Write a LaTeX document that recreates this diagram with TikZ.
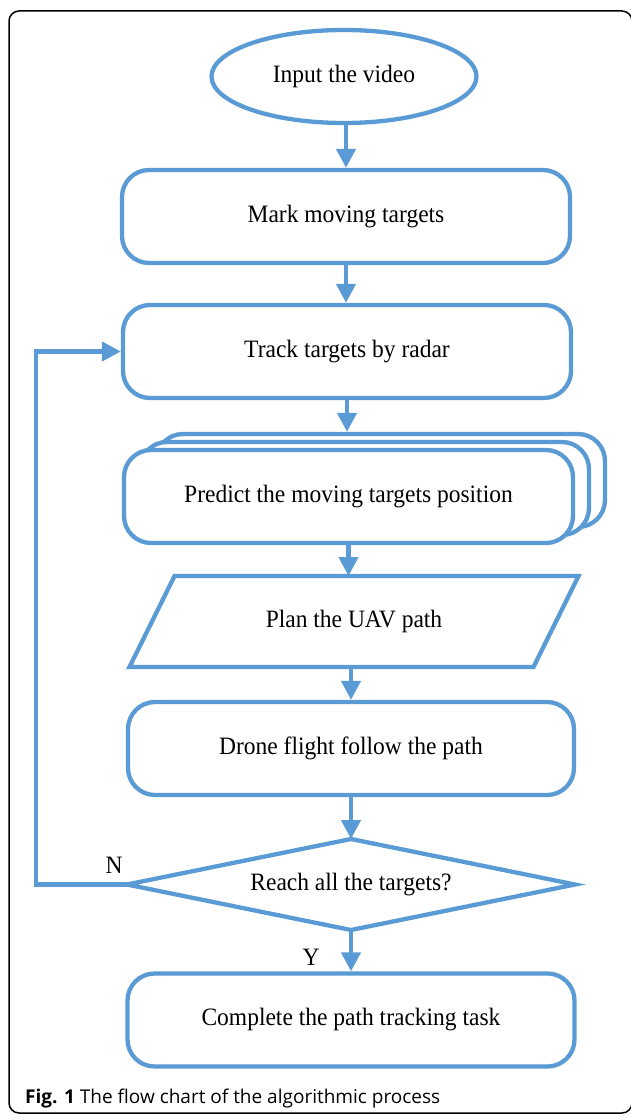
\documentclass[tikz,border=0pt]{standalone}
\usepackage{fontspec}
\setmainfont[FakeStretch=0.94]{Liberation Serif}
\newfontfamily\capfont{Open Sans}
\usetikzlibrary{arrows.meta,shapes.geometric}
\definecolor{flowblue}{RGB}{91,155,213}
\begin{document}
\begin{tikzpicture}[x=1pt,y=-1pt,
  every node/.style={font=\fontsize{25}{30}\selectfont},
  flowline/.style={draw=flowblue,line width=4.3pt},
  boxnode/.style={flowline,rectangle,rounded corners=27pt,minimum width=448pt,minimum height=93pt,inner sep=0pt,fill=white},
  conn/.style={flowline,-{Triangle[length=19pt,width=19pt]}},
  plainnode/.style={inner sep=0pt,outer sep=0pt,minimum width=449pt,minimum height=91pt}
]
\useasboundingbox (0,0) rectangle (630,1115);
\draw[black,line width=1.5pt,rounded corners=10pt] (9,11) rectangle (632,1113);

\node[flowline,ellipse,minimum width=265pt,minimum height=93pt,inner sep=0pt] (input) at (344,76.5) {Input the video};
\node[boxnode] (mark) at (346,216.5) {Mark moving targets};
\node[boxnode] (track) at (347,351.5) {Track targets by radar};
\node[boxnode,minimum width=449pt] (pback) at (380.5,480.5) {};
\node[boxnode,minimum width=449pt] (pmid) at (364.5,488.5) {};
\node[boxnode,minimum width=449pt] (predict) at (348.5,496.5) {Predict the moving targets position};

\node[plainnode] (plan) at (354,621.5) {Plan the UAV path};
\draw[flowline,line join=miter] (plan.south west) -- ([xshift=45pt]plan.north west) -- (plan.north east) -- ([xshift=-45pt]plan.south east) -- cycle;

\node[boxnode,minimum width=446pt] (drone) at (351,748.5) {Drone flight follow the path};

\node[plainnode,minimum width=448pt] (dec) at (351,884.5) {Reach all the targets?};
\draw[flowline,line join=miter] (dec.west) -- (dec.north) -- (dec.east) -- (dec.south) -- cycle;

\node[boxnode,minimum width=447pt] (done) at (351,1020) {Complete the path tracking task};

\draw[conn] (input.south -| mark.north) -- (mark.north);
\draw[conn] (mark.south) -- (mark.south |- track.north);
\draw[conn] (track.south) -- (track.south |- pback.north);
\draw[conn] (predict.south) -- (predict.south |- plan.north);
\draw[conn] (plan.south -| drone.north) -- (drone.north);
\draw[conn] (drone.south) -- (dec.north);
\draw[conn] (dec.south) -- (done.north);
\coordinate (loopx) at (36,0);
\draw[conn] (dec.west) -- (dec.west -| loopx) |- (track.west);

\node (nlab) at (114,865) {N};
\node (ylab) at (311,957) {Y};

\node[anchor=base west,inner sep=0pt,font=\capfont\fontsize{19}{22}\selectfont] (cap) at (25,1103) {\textbf{Fig. 1} The flow chart of the algorithmic process};
\end{tikzpicture}
\end{document}
